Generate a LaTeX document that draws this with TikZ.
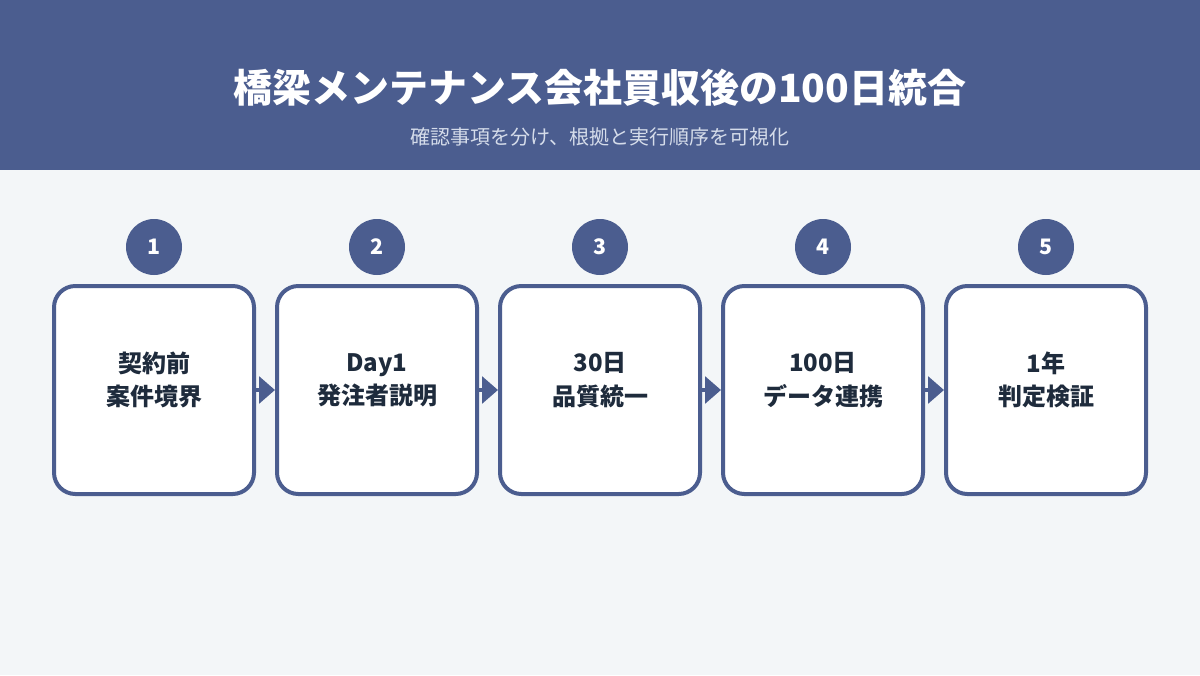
\documentclass[tikz,border=0pt]{standalone}
\usepackage{fontspec}
\setmainfont{Noto Sans CJK JP}
\usetikzlibrary{arrows.meta}
\definecolor{headblue}{HTML}{4B5D8F}
\definecolor{pagebg}{HTML}{F3F6F8}
\definecolor{inkdark}{HTML}{1E2B3C}
\definecolor{subtext}{HTML}{D5DCEA}
\tikzset{
	stepbox/.style={draw=headblue,line width=3pt,fill=white,rounded corners=16pt,minimum width=150pt,minimum height=156pt},
	stepnum/.style={circle,fill=headblue,minimum size=42pt,inner sep=0pt,text=white,font=\bfseries\fontsize{16}{18}\selectfont},
	steplabel/.style={text=inkdark,align=center,font=\bfseries\fontsize{18}{25}\selectfont},
	steparrow/.style={draw=headblue,line width=3pt,-{Triangle[length=12pt,width=20pt]}}
}
\begin{document}
\begin{tikzpicture}[x=0.75pt,y=-0.75pt]
	% background
	\fill[pagebg] (0,0) rectangle (1200,675);
	\fill[headblue] (0,0) rectangle (1200,170);
	\node (title) at (600,88) [text=white,font=\bfseries\fontsize{29.2}{32}\selectfont] {橋梁メンテナンス会社買収後の100日統合};
	\node (subtitle) at (600,137) [text=subtext,font=\fontsize{15}{18}\selectfont] {確認事項を分け、根拠と実行順序を可視化};
	% steps
	\foreach \i/\label in {1/契約前\\案件境界,2/Day1\\発注者説明,3/30日\\品質統一,4/100日\\データ連携,5/1年\\判定検証}{
		\node[stepbox] (box\i) at (154+223*\i-223,390) {};
		\node[steplabel] (label\i) at (154+223*\i-223,380) {\label};
		\node[stepnum] (num\i) at (154+223*\i-223,247) {\i};
	}
	% connectors
	\foreach \i [evaluate=\i as \j using int(\i+1)] in {1,...,4}
		\draw[steparrow] (box\i.east) -- (box\j.west);
\end{tikzpicture}
\end{document}
